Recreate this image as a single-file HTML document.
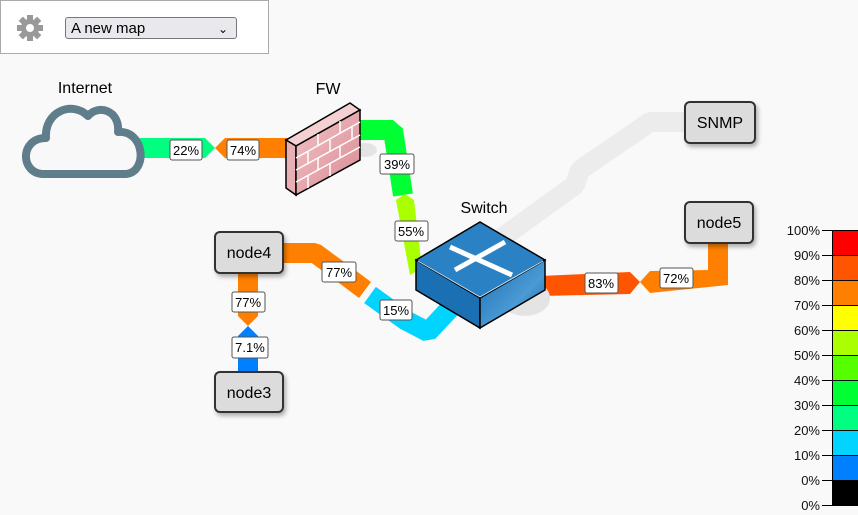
<!DOCTYPE html>
<html><head><style>
body{margin:0;width:858px;height:515px;background:#f9f9f9;font-family:"Liberation Sans",sans-serif;overflow:hidden;position:relative}
.hdr{position:absolute;left:0;top:0;width:267px;height:52px;border:1px solid #aaa;background:#fff}
.sel{position:absolute;left:65px;top:17px;height:22px;border:1px solid #777;border-radius:3px;background:#e9e9ed;font-size:15px;line-height:22px;padding-left:5px;box-sizing:border-box;width:172px}
svg{position:absolute;left:0;top:0}
</style></head><body>
<svg width="858" height="515" font-family="Liberation Sans, sans-serif">
<defs>
<filter id="sh" x="-20%" y="-20%" width="150%" height="150%"><feDropShadow dx="2" dy="3" stdDeviation="2" flood-opacity="0.3"/></filter>
<linearGradient id="sw" x1="0" y1="0" x2="1" y2="1"><stop offset="0" stop-color="#1c6fb4"/><stop offset="0.6" stop-color="#4a9ad4"/><stop offset="1" stop-color="#0f5a9a"/></linearGradient>
<linearGradient id="fw" x1="0" y1="0" x2="1" y2="1"><stop offset="0" stop-color="#f2c4c8"/><stop offset="1" stop-color="#d98a92"/></linearGradient>
</defs>
<polyline points="478,255 575,185 580,170 650,122 690,122" fill="none" stroke="#ececec" stroke-width="20" stroke-linejoin="bevel"/>
<polygon points="140,138 205,138 215,148 205,158 140,158" fill="#00ff80"/>
<polygon points="290,138 225,138 215,148 225,158 290,158" fill="#ff8000"/>
<polyline points="355,130 393,130 403,195" fill="none" stroke="#00ff33" stroke-width="20" stroke-linejoin="bevel"/>
<polygon points="396,200 405,194 414,200 422,268 410,275" fill="#aaff00"/>
<polyline points="282,253 315,253 345,275 365,290" fill="none" stroke="#ff8000" stroke-width="20" stroke-linejoin="bevel"/>
<polyline points="370,295 405,320 428,332 458,300" fill="none" stroke="#00d4ff" stroke-width="20" stroke-linejoin="bevel"/>
<polygon points="238,272 258,272 258,316 248,326 238,316" fill="#ff8000"/>
<polygon points="238,372 258,372 258,336 248,326 238,336" fill="#0080ff"/>
<polygon points="540,276 630,272 640,282 630,294 540,296" fill="#ff5500"/>
<polygon points="640,282 650,271 708,270 708,243 728,243 728,285 650,293" fill="#ff8000"/>
<path d="M42,174 C20,172 20,138 46,138 C44,112 72,100 88,116 C98,104 120,110 118,132 C145,130 148,172 126,174 Z" fill="#f8f8f8" stroke="#607d8b" stroke-width="8" stroke-linejoin="round"/>
<text x="85" y="93" font-size="16" text-anchor="middle">Internet</text>
<ellipse cx="365" cy="150" rx="12" ry="7" fill="#e4e4e4"/>
<polygon points="286,140 350,103 360,110 296,146" fill="#f4d0d3" stroke="#000" stroke-width="1.5"/>
<polygon points="286,140 296,146 296,195 286,188" fill="#e7b0b5" stroke="#000" stroke-width="1.5"/>
<polygon points="296,146 360,110 360,160 296,195" fill="url(#fw)" stroke="#000" stroke-width="1.5"/>
<g stroke="#fff" stroke-width="1.5" fill="none">
<line x1="296" y1="158" x2="360" y2="122"/><line x1="296" y1="170" x2="360" y2="135"/><line x1="296" y1="182" x2="360" y2="147"/>
<line x1="318" y1="134" x2="318" y2="146"/><line x1="340" y1="121" x2="340" y2="134"/><line x1="308" y1="152" x2="308" y2="164"/><line x1="330" y1="140" x2="330" y2="152"/><line x1="352" y1="127" x2="352" y2="140"/><line x1="318" y1="158" x2="318" y2="170"/><line x1="340" y1="146" x2="340" y2="158"/><line x1="308" y1="176" x2="308" y2="188"/><line x1="330" y1="164" x2="330" y2="176"/>
</g>
<text x="328" y="94" font-size="16" text-anchor="middle">FW</text>
<ellipse cx="525" cy="298" rx="25" ry="18" fill="#e4e4e4"/>
<polygon points="416,260 480,222 545,260 480,298" fill="#2a82c4" stroke="#000" stroke-width="1.5"/>
<polygon points="416,260 480,298 480,328 416,290" fill="#1a70b2" stroke="#000" stroke-width="1.5"/>
<polygon points="480,298 545,260 545,290 480,328" fill="url(#sw)" stroke="#000" stroke-width="1.5"/>
<line x1="418" y1="261" x2="480" y2="297" stroke="#cfe6f7" stroke-width="1"/>
<line x1="480" y1="297" x2="543" y2="261" stroke="#cfe6f7" stroke-width="1"/>
<g stroke="#fff" stroke-width="5" fill="#fff">
<line x1="450" y1="247" x2="512" y2="275"/><line x1="505" y1="242" x2="455" y2="270"/>
</g>
<text x="484" y="213" font-size="16" text-anchor="middle">Switch</text>
<g filter="url(#sh)" fill="#dcdcdc" stroke="#333" stroke-width="2">
<rect x="215" y="232" width="68" height="41" rx="5"/>
<rect x="215" y="372" width="68" height="40" rx="5"/>
<rect x="685" y="102" width="70" height="41" rx="5"/>
<rect x="685" y="202" width="68" height="41" rx="5"/>
</g>
<g font-size="16" text-anchor="middle">
<text x="249" y="258">node4</text><text x="249" y="398">node3</text>
<text x="720" y="128">SNMP</text><text x="719" y="228">node5</text>
</g>
<g fill="#fff" stroke="#555" stroke-width="1">
<rect x="170" y="140" width="32" height="20" rx="2"/>
<rect x="227" y="140" width="32" height="20" rx="2"/>
<rect x="380" y="154" width="34" height="20" rx="2"/>
<rect x="395" y="221" width="33" height="20" rx="2"/>
<rect x="322" y="262" width="34" height="20" rx="2"/>
<rect x="380" y="300" width="32" height="20" rx="2"/>
<rect x="232" y="292" width="33" height="20" rx="2"/>
<rect x="232" y="337" width="36" height="21" rx="2"/>
<rect x="585" y="273" width="33" height="20" rx="2"/>
<rect x="660" y="268" width="33" height="20" rx="2"/>
</g>
<g font-size="13" text-anchor="middle">
<text x="186" y="155">22%</text><text x="243" y="155">74%</text>
<text x="397" y="169">39%</text><text x="411" y="236">55%</text>
<text x="339" y="277">77%</text><text x="396" y="315">15%</text>
<text x="248" y="307">77%</text><text x="250" y="352">7.1%</text>
<text x="601" y="288">83%</text><text x="676" y="283">72%</text>
</g>
<g stroke="#000" stroke-width="1">
<rect x="832.5" y="230.5" width="26" height="25" fill="#ff0000"/>
<rect x="832.5" y="255.5" width="26" height="25" fill="#ff5500"/>
<rect x="832.5" y="280.5" width="26" height="25" fill="#ff8000"/>
<rect x="832.5" y="305.5" width="26" height="25" fill="#ffff00"/>
<rect x="832.5" y="330.5" width="26" height="25" fill="#aaff00"/>
<rect x="832.5" y="355.5" width="26" height="25" fill="#55ff00"/>
<rect x="832.5" y="380.5" width="26" height="25" fill="#00ff33"/>
<rect x="832.5" y="405.5" width="26" height="25" fill="#00ff80"/>
<rect x="832.5" y="430.5" width="26" height="25" fill="#00d4ff"/>
<rect x="832.5" y="455.5" width="26" height="25" fill="#0080ff"/>
<rect x="832.5" y="480.5" width="26" height="25" fill="#000000"/>
<path d="M822,230.5h10M822,255.5h10M822,280.5h10M822,305.5h10M822,330.5h10M822,355.5h10M822,380.5h10M822,405.5h10M822,430.5h10M822,455.5h10M822,480.5h10M822,505.5h10"/>
</g>
<g font-size="13" text-anchor="end" fill="#111">
<text x="820" y="235">100%</text><text x="820" y="260">90%</text><text x="820" y="285">80%</text><text x="820" y="310">70%</text><text x="820" y="335">60%</text><text x="820" y="360">50%</text><text x="820" y="385">40%</text><text x="820" y="410">30%</text><text x="820" y="435">20%</text><text x="820" y="460">10%</text><text x="820" y="485">0%</text><text x="820" y="510">0%</text>
</g>
</svg>
<div class="hdr"></div>
<svg width="60" height="55" style="left:0;top:0">
<g transform="translate(30,28)" fill="#999">
<circle r="9"/>
<g><rect x="-3" y="-13" width="6" height="26"/><rect x="-3" y="-13" width="6" height="26" transform="rotate(45)"/><rect x="-3" y="-13" width="6" height="26" transform="rotate(90)"/><rect x="-3" y="-13" width="6" height="26" transform="rotate(135)"/></g>
<circle r="4" fill="#fff"/>
</g>
</svg>
<div class="sel">A new map<span style="position:absolute;right:8px;top:0;font-size:12px">&#8964;</span></div>
</body></html>
